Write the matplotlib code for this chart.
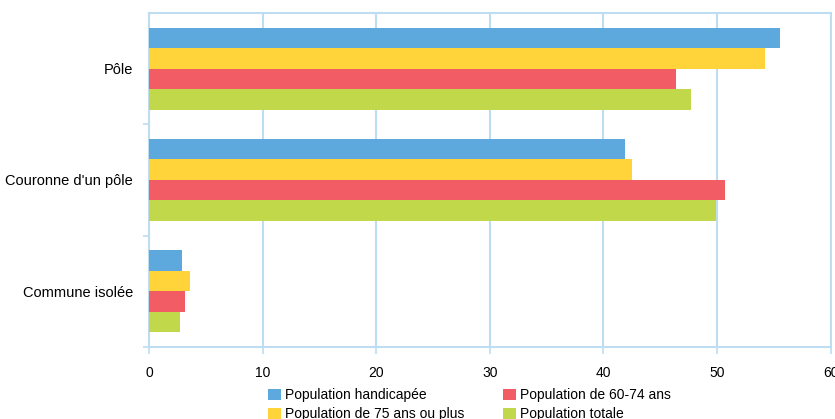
import numpy as np
import matplotlib.pyplot as plt

plt.rcParams['font.family'] = ['Liberation Sans', 'DejaVu Sans']

categories = ["Pôle", "Couronne d'un pôle", "Commune isolée"]
series = ["Population handicapée", "Population de 75 ans ou plus",
          "Population de 60-74 ans", "Population totale"]
handicap = [55.5, 41.9, 2.9]
plus75 = [54.2, 42.5, 3.6]
age6074 = [46.4, 50.7, 3.2]
totale = [47.7, 49.9, 2.7]
colors = ["#5DA9DD", "#FFD43B", "#F25C64", "#C0D84A"]
grid_col = "#BEDDF0"

fig = plt.figure(figsize=(8.35, 4.19), dpi=100)
ax = fig.add_axes([0.1784, 0.172, 0.8165, 0.797])

y = np.arange(len(categories))
h = 0.184
bars = []
for i, (vals, c) in enumerate(zip([handicap, plus75, age6074, totale], colors)):
    b = ax.barh(y + (i - 1.5) * h, vals, height=h, color=c, zorder=3)
    bars.append(b)

ax.set_xlim(0, 60)
ax.set_ylim(2.5, -0.5)
ax.set_xticks(np.arange(0, 61, 10))
ax.set_yticks(y)
ax.set_yticklabels(categories)
ax.set_yticks([0.5, 1.5, 2.5], minor=True)
ax.tick_params(axis='y', which='major', length=0, pad=11.5, labelsize=10.5)
ax.tick_params(axis='y', which='minor', length=4, color=grid_col, width=1.2)
ax.tick_params(axis='x', length=5, color=grid_col, width=1.2, pad=8.5, labelsize=10)
ax.grid(axis='x', color=grid_col, linewidth=1.5, zorder=0)
for s in ax.spines.values():
    s.set_color(grid_col)
    s.set_linewidth(1.5)

# legend: row 1 blue, red ; row 2 yellow, green
fig.legend(bars, series, ncol=2,
           loc='upper left', bbox_to_anchor=(0.306, 0.103), frameon=False,
           handlelength=0.94, handleheight=0.8, handletextpad=0.29,
           columnspacing=2.74, labelspacing=0.37, fontsize=10)

fig.savefig("out.png", dpi=100)
